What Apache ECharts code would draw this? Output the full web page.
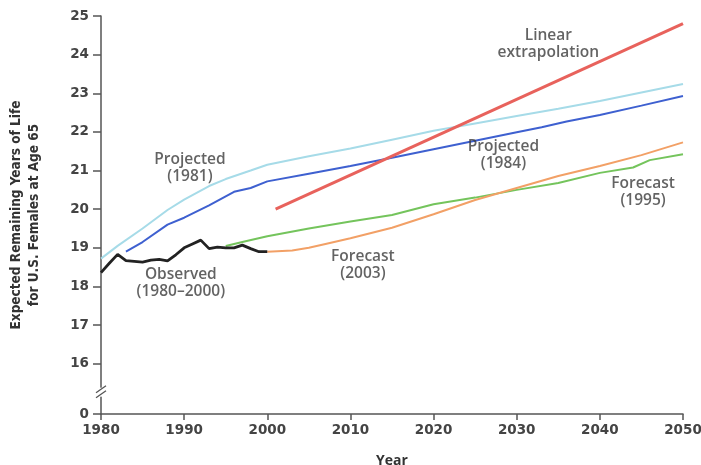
<!DOCTYPE html>
<html>
<head>
<meta charset="utf-8">
<script src="https://cdn.jsdelivr.net/npm/echarts@6/dist/echarts.min.js"></script>
<style>html,body{margin:0;padding:0;background:#fff}#c{width:701px;height:465px}</style>
</head>
<body>
<div id="c"></div>
<script>
// ---- data ----
const observedYears = [1980,1981,1982,1983,1984,1985,1986,1987,1988,1989,1990,1991,1992,1993,1994,1995,1996,1997,1998,1999,2000];
const observedValues = [18.36,18.6,18.83,18.67,18.65,18.63,18.68,18.7,18.66,18.82,19.0,19.1,19.2,18.98,19.02,19.0,19.0,19.07,18.98,18.9,18.9];

const proj1981Years = [1980,1982,1985,1988,1990,1993,1995,1998,2000,2005,2010,2015,2020,2025,2030,2035,2040,2045,2050];
const proj1981Values = [18.72,19.05,19.5,19.98,20.25,20.6,20.78,21.0,21.15,21.37,21.57,21.8,22.03,22.22,22.41,22.6,22.8,23.02,23.24];

const proj1984Years = [1983,1985,1988,1990,1993,1996,1998,2000,2005,2010,2015,2020,2025,2030,2033,2036,2040,2045,2050];
const proj1984Values = [18.9,19.15,19.6,19.78,20.1,20.45,20.55,20.72,20.92,21.12,21.33,21.55,21.77,21.99,22.12,22.27,22.44,22.68,22.93];

const linearYears = [2001,2050];
const linearValues = [20.0,24.8];

const fc2003Years = [2000,2003,2005,2007,2010,2015,2020,2025,2030,2035,2040,2045,2050];
const fc2003Values = [18.9,18.93,19.0,19.1,19.25,19.52,19.87,20.24,20.55,20.86,21.12,21.4,21.73];

const fc1995Years = [1995,1997,2000,2005,2010,2015,2020,2025,2030,2035,2040,2044,2046,2050];
const fc1995Values = [19.05,19.15,19.3,19.5,19.68,19.85,20.13,20.3,20.5,20.68,20.94,21.08,21.27,21.42];

const yTickValues = [14.7,16,17,18,19,20,21,22,23,24,25];
const annotations = [
  {text:'Linear\nextrapolation', x:2033.8, y:24.27},
  {text:'Projected\n(1981)', x:1990.7, y:21.06},
  {text:'Projected\n(1984)', x:2028.4, y:21.4},
  {text:'Forecast\n(1995)', x:2045.2, y:20.44},
  {text:'Forecast\n(2003)', x:2011.5, y:18.55},
  {text:'Observed\n(1980\u20132000)', x:1989.6, y:18.08}
];

const pair = (xs, ys) => xs.map((x, i) => [x, ys[i]]);

const chart = echarts.init(document.getElementById('c'), null, {renderer:'canvas'});
const lineSeries = (name, xs, ys, color, width, z) => ({
  name, type:'line', data: pair(xs, ys), showSymbol:false, symbol:'none',
  lineStyle:{color, width}, z: z || 2, smooth:false, silent:true
});

const labelFont = {fontFamily:'Open Sans', fontSize:15.5, color:'#3c3c3c', lineHeight:17, fontWeight:600};

const option = {
  backgroundColor:'#fff',
  animation:false,
  grid:{left:101, right:18, top:16, bottom:51, outerBoundsMode:'none', containLabel:false},
  xAxis:{
    type:'value', min:1980, max:2050, interval:10,
    name:'Year', nameLocation:'middle', nameGap:40,
    nameTextStyle:{fontFamily:'Open Sans', fontSize:14, fontWeight:'bold', color:'#333'},
    axisLine:{show:true, lineStyle:{color:'#555', width:1.5}},
    axisTick:{show:true, length:6, lineStyle:{color:'#555', width:1.5}},
    axisLabel:{fontFamily:'DejaVu Sans', fontSize:13.5, fontWeight:'bold', color:'#444', margin:9,
      formatter: v => String(v)},
    splitLine:{show:false}
  },
  yAxis:{
    type:'value', min:14.7, max:25,
    name:'Expected Remaining Years of Life\nfor U.S. Females at Age 65',
    nameLocation:'middle', nameGap:58, nameRotate:90,
    nameTextStyle:{fontFamily:"'DejaVu Sans Condensed', 'Liberation Sans', sans-serif", fontSize:13.5, fontWeight:'bold', color:'#333', lineHeight:18},
    axisLine:{show:true, lineStyle:{color:'#555', width:1.5}},
    axisTick:{show:true, length:8, customValues:yTickValues, lineStyle:{color:'#555', width:1.5}},
    axisLabel:{customValues:yTickValues, fontFamily:'DejaVu Sans', fontSize:13.5, fontWeight:'bold', color:'#444', margin:12,
      formatter: v => v < 15 ? '0' : String(Math.round(v))},
    splitLine:{show:false}
  },
  series:[
    lineSeries('Projected (1981)', proj1981Years, proj1981Values, '#a6dbe8', 2, 2),
    lineSeries('Projected (1984)', proj1984Years, proj1984Values, '#3e60d0', 2, 3),
    lineSeries('Forecast (1995)', fc1995Years, fc1995Values, '#74c45c', 2, 3),
    lineSeries('Forecast (2003)', fc2003Years, fc2003Values, '#f2a066', 2, 3),
    lineSeries('Linear extrapolation', linearYears, linearValues, '#e8625c', 3, 4),
    lineSeries('Observed (1980\u20132000)', observedYears, observedValues, '#222', 2.8, 5),
    {
      type:'scatter', name:'labels', silent:true, z:6,
      data: annotations.map(a => ({value:[a.x, a.y], name:a.text})),
      symbolSize:0,
      label:{show:true, position:'inside', formatter: p => p.name, ...labelFont, align:'center', verticalAlign:'middle'}
    }
  ]
};
chart.setOption(option);

// axis break marks "//"
const p = chart.convertToPixel({xAxisIndex:0, yAxisIndex:0}, [1980, 15.2]);
chart.setOption({
  graphic:[
    {type:'rect', shape:{x:p[0]-5, y:p[1]-7, width:10, height:9}, style:{fill:'#fff'}, z:10},
    {type:'line', shape:{x1:p[0]-5, y1:p[1]-2, x2:p[0]+5, y2:p[1]-9}, style:{stroke:'#555', lineWidth:1.3}, z:11},
    {type:'line', shape:{x1:p[0]-5, y1:p[1]+3, x2:p[0]+5, y2:p[1]-4}, style:{stroke:'#555', lineWidth:1.3}, z:11}
  ]
});
</script>
</body>
</html>
